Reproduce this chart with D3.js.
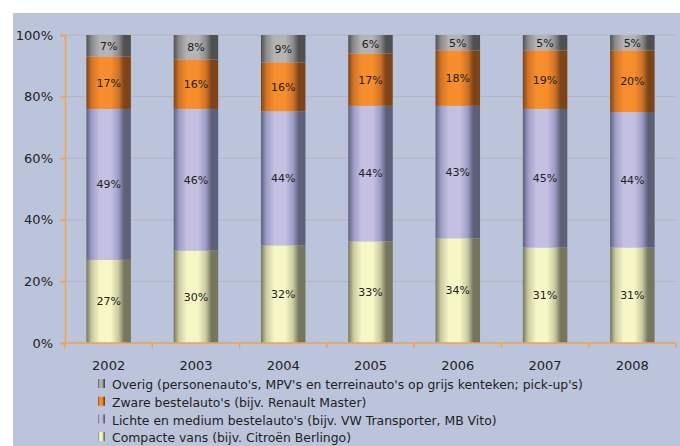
<!DOCTYPE html>
<html lang="nl">
<head>
    <meta charset="UTF-8">
    <title>Bestelauto's naar type</title>
    <script src="https://d3js.org/d3.v7.min.js"></script>
    <style>
        body { margin: 0; background: #fff; font-family: "DejaVu Sans", sans-serif; }
        svg { display: block; }
        .tick text { fill: #222; }
    </style>
</head>
<body>
    <svg></svg>
    <script>
        const width = 680, height = 446;

        // data (percentages as labelled in the chart)
        const years = ["2002", "2003", "2004", "2005", "2006", "2007", "2008"];
        const compacte = [27, 30, 32, 33, 34, 31, 31];
        const lichte   = [49, 46, 44, 44, 43, 45, 44];
        const zware    = [17, 16, 16, 17, 18, 19, 20];
        const overig   = [7, 8, 9, 6, 5, 5, 5];
        const yTicks = [0, 0.2, 0.4, 0.6, 0.8, 1];

        const seriesNames = [
            "Compacte vans (bijv. Citroën Berlingo)",
            "Lichte en medium bestelauto's (bijv. VW Transporter, MB Vito)",
            "Zware bestelauto's (bijv. Renault Master)",
            "Overig (personenauto's, MPV's en terreinauto's op grijs kenteken; pick-up's)"
        ];
        const seriesVals = [compacte, lichte, zware, overig];
        const keys = ["c", "l", "z", "o"];

        // cylinder-like shading per series: [edge, mid, light]
        const shades = {
            c: ["#74765e", "#c9caa0", "#f6f6c6"],
            l: ["#5e6078", "#9c9cc6", "#c4c0e2"],
            z: ["#7c4418", "#d07428", "#f78d2c"],
            o: ["#505050", "#8c8c8c", "#b4b4b4"]
        };

        const rows = years.map((y, i) => {
            const r = { year: y };
            keys.forEach((k, j) => r[k] = seriesVals[j][i]);
            return r;
        });

        const stack = d3.stack().keys(keys).offset(d3.stackOffsetExpand);
        const stacked = stack(rows);

        const margin = { left: 65, right: 4, top: 35, bottom: 103 };
        const svg = d3.select("svg").attr("width", width).attr("height", height);

        svg.append("rect")
            .attr("x", 13).attr("y", 13)
            .attr("width", width - 13).attr("height", height - 13)
            .attr("fill", "#bcc4dc");

        const x = d3.scaleBand().domain(years)
            .range([margin.left, width - margin.right])
            .paddingInner(0.49).paddingOuter(0.245);
        const xOuter = d3.scaleBand().domain(years)
            .range([margin.left, width - margin.right]);
        const y = d3.scaleLinear().domain([0, 1])
            .range([height - margin.bottom, margin.top]);

        const defs = svg.append("defs");
        keys.forEach(k => {
            const s = shades[k];
            const g = defs.append("linearGradient").attr("id", "g-" + k)
                .attr("x1", "0%").attr("x2", "100%").attr("y1", "0%").attr("y2", "0%");
            [[0, s[0]], [0.12, s[1]], [0.3, s[2]], [0.55, s[2]], [0.72, s[1]], [0.85, s[0]], [1, s[0]]]
                .forEach(([o, c]) => g.append("stop").attr("offset", o).attr("stop-color", c));
        });

        // gridlines
        svg.append("g").selectAll("line")
            .data(yTicks.filter(t => t > 0))
            .join("line")
            .attr("x1", margin.left).attr("x2", width - margin.right)
            .attr("y1", d => y(d)).attr("y2", d => y(d))
            .attr("stroke", "#b2b6c2").attr("stroke-width", 1);

        // bars
        const layer = svg.append("g").selectAll("g")
            .data(stacked)
            .join("g")
            .attr("fill", d => "url(#g-" + d.key + ")");

        layer.selectAll("rect")
            .data(d => d)
            .join("rect")
            .attr("x", d => x(d.data.year))
            .attr("width", x.bandwidth())
            .attr("y", d => y(d[1]))
            .attr("height", d => y(d[0]) - y(d[1]));

        layer.selectAll("text")
            .data(d => d.map(p => ({ p, key: d.key })))
            .join("text")
            .attr("x", d => x(d.p.data.year) + x.bandwidth() / 2)
            .attr("y", d => (y(d.p[0]) + y(d.p[1])) / 2)
            .attr("dy", "0.35em")
            .attr("text-anchor", "middle")
            .attr("font-size", 11)
            .attr("fill", "#222")
            .text(d => d.p.data[d.key] + "%");

        // axes
        const axisColor = "#f4a048";
        const yAxis = svg.append("g")
            .attr("transform", `translate(${margin.left},0)`)
            .call(d3.axisLeft(y).tickValues(yTicks).tickFormat(d3.format(".0%")).tickSize(5).tickPadding(7));
        yAxis.selectAll("line, path").attr("stroke", axisColor).attr("stroke-width", 1.5);
        yAxis.selectAll("text").attr("font-size", 13).attr("font-family", "DejaVu Sans");

        const xAxisG = svg.append("g")
            .attr("transform", `translate(0,${height - margin.bottom})`);
        xAxisG.append("line")
            .attr("x1", margin.left).attr("x2", width - margin.right)
            .attr("stroke", axisColor).attr("stroke-width", 1.5);
        const bounds = years.map(d => xOuter(d)).concat([width - margin.right]);
        xAxisG.selectAll(".xt").data(bounds).join("line")
            .attr("x1", d => d).attr("x2", d => d)
            .attr("y1", 0).attr("y2", 5)
            .attr("stroke", axisColor).attr("stroke-width", 1.5);
        xAxisG.selectAll(".xl").data(years).join("text")
            .attr("x", d => xOuter(d) + xOuter.bandwidth() / 2)
            .attr("y", 27)
            .attr("text-anchor", "middle")
            .attr("font-size", 13)
            .attr("fill", "#222")
            .text(d => d);

        // legend (top entry = top series)
        const legend = svg.append("g").attr("transform", "translate(98,385)");
        const legendOrder = [3, 2, 1, 0];
        legendOrder.forEach((si, i) => {
            const g = legend.append("g").attr("transform", `translate(0,${i * 17.7})`);
            g.append("rect").attr("x", 0).attr("y", -6).attr("width", 7).attr("height", 9)
                .attr("fill", "url(#g-" + keys[si] + ")");
            g.append("text").attr("x", 14).attr("y", 0).attr("dy", "0.35em")
                .attr("font-size", 12.4).attr("fill", "#222")
                .text(seriesNames[si]);
        });
    </script>
</body>
</html>
